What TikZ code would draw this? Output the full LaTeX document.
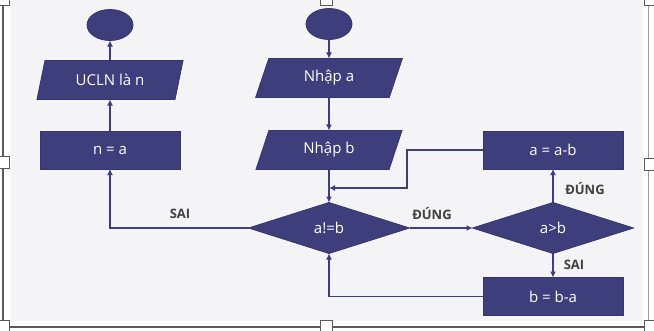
\documentclass[tikz,border=0pt]{standalone}
\usepackage{fontspec}
\setmainfont{Open Sans}
\usetikzlibrary{shapes.geometric,arrows.meta}

\definecolor{navy}{RGB}{63,62,124}
\definecolor{lblgray}{RGB}{64,64,64}
\definecolor{pagegray}{RGB}{244,244,246}
\definecolor{framegray}{RGB}{90,90,90}

\tikzset{
  base/.style={fill=navy, draw=navy!85!black, line width=0.8, text=white,
    inner sep=0, outer sep=0, font=\fontsize{15}{18}\selectfont},
  term/.style={base, ellipse, minimum width=46, minimum height=31},
  io/.style={base, trapezium, trapezium left angle=70, trapezium right angle=110,
    trapezium stretches=true, minimum width=147, minimum height=39},
  proc/.style={base, rectangle, minimum width=140, minimum height=38},
  cond/.style={base, diamond, aspect=3, minimum width=161, minimum height=51},
  lbl/.style={text=lblgray, font=\bfseries\fontsize{13}{15}\selectfont},
  arr/.style={-{Latex[length=6,width=6]}, navy, line width=1.8},
  handle/.style={fill=white, draw=framegray, line width=0.8},
}

\begin{document}
\begin{tikzpicture}[x=1pt,y=-1pt]
    % Frame
    \useasboundingbox (0,0) rectangle (654,330);
    \fill[white] (0,0) rectangle (654,330);
    \fill[pagegray] (11,0) rectangle (643,321);
    \draw[framegray, line width=1.6] (3,2) -- (3,327) -- (648,327);
    \draw[framegray!60, line width=1] (648,2) -- (648,327);
    \foreach \hx/\hy in {3/-1, 326/-1, 650/-1, 3/162, 650/164, 3/326, 326/326, 650/326}
      \draw[handle] (\hx-6,\hy-6) rectangle (\hx+6,\hy+6);

    % Left column
    \node[term] (fin) at (110,25) {};
    \node[io] (out) at (110,80) {UCLN là n};
    \node[proc] (nisa) at (110,150) {n = a};

    % Middle column
    \node[term] (start) at (329,24) {};
    \node[io] (ina) at (329,78) {Nhập a};
    \node[io] (inb) at (329,150) {Nhập b};
    \node[cond] (neq) at (329,228) {a!=b};

    % Right column
    \node[proc] (sub1) at (553,150) {a = a-b};
    \node[cond] (gt) at (553,228) {a>b};
    \node[proc] (sub2) at (553,296.5) {b = b-a};

    % Connectors
    \draw[arr] (start) -- (ina);
    \draw[arr] (ina) -- (inb);
    \draw[arr] (inb) -- (neq);
    \draw[arr] (nisa) -- (out);
    \draw[arr] (out) -- (fin);
    \draw[arr] (neq.west) -| (nisa.south);
    \draw[arr] (neq) -- (gt);
    \draw[arr] (gt) -- (sub1);
    \draw[arr] (gt) -- (sub2);
    \coordinate (bend) at (407,188);
    \draw[arr] (sub1.west) -| (bend) -- (bend -| neq.north);
    \draw[arr] (sub2.west) -| (neq.south);

    % Labels
    \node[lbl] (sai1) at (180,214) {SAI};
    \node[lbl] (dung1) at (432,214) {ĐÚNG};
    \node[lbl] (dung2) at (585,189) {ĐÚNG};
    \node[lbl] (sai2) at (574,265) {SAI};
\end{tikzpicture}
\end{document}
